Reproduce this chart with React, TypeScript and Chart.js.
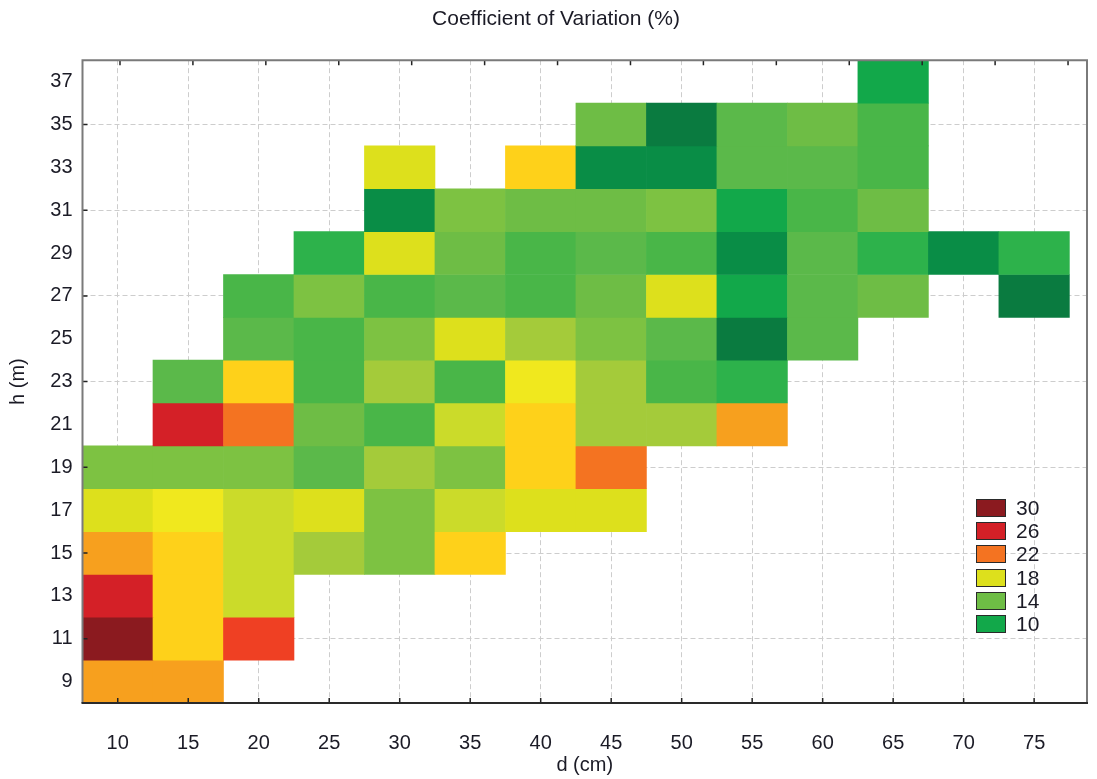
import React, { useEffect, useRef } from 'react';
import { Chart, registerables } from 'chart.js';

Chart.register(...registerables);

// ---------- data ----------
const chartTitle = 'Coefficient of Variation (%)';
const xTitle = 'd (cm)';
const yTitle = 'h (m)';

const dValues = [10, 15, 20, 25, 30, 35, 40, 45, 50, 55, 60, 65, 70, 75];
const hValues = [9, 11, 13, 15, 17, 19, 21, 23, 25, 27, 29, 31, 33, 35, 37];
const hGridValues = [11, 15, 19, 23, 27, 31, 35];
const hStep = 2;

const N = null;
// CV (%) per row of h, columns follow dValues
const cvH9 = [21, 21, N, N, N, N, N, N, N, N, N, N, N, N];
const cvH11 = [30, 20, 24, N, N, N, N, N, N, N, N, N, N, N];
const cvH13 = [26, 20, 17, N, N, N, N, N, N, N, N, N, N, N];
const cvH15 = [21, 20, 17, 16, 15, 20, N, N, N, N, N, N, N, N];
const cvH17 = [18, 19, 17, 18, 15, 17, 18, 18, N, N, N, N, N, N];
const cvH19 = [15, 15, 15, 13, 16, 15, 20, 22, N, N, N, N, N, N];
const cvH21 = [N, 26, 22, 14, 12, 17, 20, 16, 16, 21, N, N, N, N];
const cvH23 = [N, 13, 20, 12, 16, 12, 19, 16, 12, 11, N, N, N, N];
const cvH25 = [N, N, 13, 12, 15, 18, 16, 15, 13, 8, 13, N, N, N];
const cvH27 = [N, N, 12, 15, 12, 13, 12, 14, 18, 10, 13, 14, N, 8];
const cvH29 = [N, N, N, 11, 18, 14, 12, 13, 12, 9, 13, 11, 9, 11];
const cvH31 = [N, N, N, N, 9, 15, 14, 14, 15, 10, 12, 14, N, N];
const cvH33 = [N, N, N, N, 18, N, 20, 9, 9, 13, 13, 12, N, N];
const cvH35 = [N, N, N, N, N, N, N, 14, 8, 13, 14, 12, N, N];
const cvH37 = [N, N, N, N, N, N, N, N, N, N, N, 10, N, N];
const cvRows = [cvH9, cvH11, cvH13, cvH15, cvH17, cvH19, cvH21, cvH23, cvH25, cvH27, cvH29, cvH31, cvH33, cvH35, cvH37];

const legendValues = [30, 26, 22, 18, 14, 10];

// ---------- colour scale ----------
const cvLevels = [8, 9, 10, 11, 12, 13, 14, 15, 16, 17, 18, 19, 20, 21, 22, 24, 26, 30];
const cvColors = ['#0a7b40', '#098d46', '#12a84a', '#2db24b', '#49b648', '#5bb94a', '#6ebd45', '#7dc242',
  '#a4cb3a', '#cbdb2a', '#dde01c', '#f0e81e', '#fed11a', '#f7a01e', '#f47321', '#ef4023', '#d42027', '#8b1a1f'];

function hexToRgb(h: string) {
  const n = parseInt(h.slice(1), 16);
  return [(n >> 16) & 255, (n >> 8) & 255, n & 255];
}
function cvColor(v: number): string {
  if (v <= cvLevels[0]) return cvColors[0];
  for (let i = 0; i < cvLevels.length - 1; i++) {
    if (v <= cvLevels[i + 1]) {
      const t = (v - cvLevels[i]) / (cvLevels[i + 1] - cvLevels[i]);
      const a = hexToRgb(cvColors[i]);
      const b = hexToRgb(cvColors[i + 1]);
      const c = a.map((x, k) => Math.round(x + (b[k] - x) * t));
      return `rgb(${c[0]},${c[1]},${c[2]})`;
    }
  }
  return cvColors[cvColors.length - 1];
}

const FONT = '"Liberation Sans", Arial, sans-serif';
const TEXT = '#1b1b26';
const GRID = '#cdcdcd';

const framePlugin = {
  id: 'frameTicks',
  afterDatasetsDraw(chart: any) {
    const { ctx, chartArea } = chart;
    const { left, right, top, bottom } = chartArea;
    const xs = chart.scales.x;
    const ys = chart.scales.y;
    const x2 = chart.scales.x2;
    ctx.save();
    ctx.strokeStyle = '#222';
    ctx.lineWidth = 1.5;
    ctx.beginPath();
    for (const v of dValues) {
      const px = xs.getPixelForValue(v);
      ctx.moveTo(px, bottom);
      ctx.lineTo(px, bottom - 5);
      const pt = x2.getPixelForValue(v);
      ctx.moveTo(pt, top);
      ctx.lineTo(pt, top + 5);
    }
    for (const v of hGridValues) {
      const py = ys.getPixelForValue(v);
      ctx.moveTo(left, py);
      ctx.lineTo(left + 5, py);
    }
    ctx.stroke();
    ctx.lineWidth = 2;
    ctx.strokeStyle = '#7a7a7a';
    ctx.beginPath();
    ctx.moveTo(left, bottom);
    ctx.lineTo(left, top);
    ctx.lineTo(right, top);
    ctx.lineTo(right, bottom);
    ctx.stroke();
    ctx.strokeStyle = '#2a2a2a';
    ctx.beginPath();
    ctx.moveTo(left - 1, bottom);
    ctx.lineTo(right + 1, bottom);
    ctx.stroke();
    ctx.restore();
  },
};

export default function App() {
  const canvasRef = useRef<HTMLCanvasElement | null>(null);

  useEffect(() => {
    const cells: any[] = [];
    const colors: string[] = [];
    hValues.forEach((h, r) => {
      cvRows[r].forEach((v, c) => {
        if (v === null) return;
        cells.push({ x: dValues[c], y: [h - hStep / 2, h + hStep / 2], cv: v });
        colors.push(cvColor(v));
      });
    });

    const chart = new Chart(canvasRef.current as HTMLCanvasElement, {
      type: 'bar',
      data: {
        datasets: [
          {
            data: cells,
            backgroundColor: colors,
            borderWidth: 0,
            barPercentage: 1,
            categoryPercentage: 1,
            borderSkipped: false,
          } as any,
        ],
      },
      plugins: [framePlugin],
      options: {
        responsive: false,
        animation: false,
        layout: { padding: { left: 25, right: 10, top: 0, bottom: 0 } },
        plugins: {
          legend: { display: false },
          tooltip: { enabled: false },
          title: {
            display: true,
            text: chartTitle,
            color: TEXT,
            font: { family: FONT, size: 21, weight: 'normal' },
            padding: { top: 7, bottom: 28 },
          },
        },
        scales: {
          x: {
            type: 'linear',
            position: 'bottom',
            min: 7.5,
            max: 78.75,
            offset: false,
            afterBuildTicks: (s: any) => {
              s.ticks = dValues.map((v) => ({ value: v }));
            },
            afterFit: (s: any) => {
              s.height = 76;
            },
            ticks: { color: TEXT, font: { family: FONT, size: 20 }, padding: 28, maxRotation: 0, autoSkip: false },
            grid: { offset: false, color: GRID, lineWidth: 1, drawTicks: false },
            border: { display: false, dash: [5, 3] },
            title: { display: true, text: xTitle, color: TEXT, font: { family: FONT, size: 20 }, padding: { top: 0, bottom: 2 } },
          },
          x2: {
            type: 'linear',
            position: 'top',
            min: 7.43,
            max: 76.3,
            offset: false,
            afterBuildTicks: (s: any) => {
              s.ticks = dValues.map((v) => ({ value: v }));
            },
            afterFit: (s: any) => {
              s.height = 0;
            },
            ticks: { display: false },
            grid: { display: false, drawTicks: false },
            border: { display: false },
          },
          y: {
            type: 'linear',
            position: 'left',
            min: 8,
            max: 38,
            beginAtZero: false,
            afterBuildTicks: (s: any) => {
              s.ticks = hValues.map((v) => ({ value: v }));
            },
            afterFit: (s: any) => {
              s.width = 57.5;
            },
            ticks: { color: TEXT, font: { family: FONT, size: 20 }, padding: 10, autoSkip: false },
            grid: { display: false, drawTicks: false },
            border: { display: false },
            title: { display: true, text: yTitle, color: TEXT, font: { family: FONT, size: 20 }, padding: { top: -19, bottom: 0 } },
          },
          y2: {
            type: 'linear',
            position: 'right',
            min: 8,
            max: 38,
            beginAtZero: false,
            afterBuildTicks: (s: any) => {
              s.ticks = hGridValues.map((v) => ({ value: v }));
            },
            afterFit: (s: any) => {
              s.width = 0;
            },
            ticks: { display: false },
            grid: { color: GRID, lineWidth: 1, drawTicks: false },
            border: { display: false, dash: [5, 3] },
          },
        },
      } as any,
    });
    return () => chart.destroy();
  }, []);

  return (
    <div style={{ position: 'absolute', left: 0, top: 0, width: 1097, height: 779, background: '#fff', fontFamily: FONT }}>
      <canvas ref={canvasRef} width={1097} height={779} style={{ display: 'block' }} />
      <div style={{ position: 'absolute', left: 976, top: 496 }}>
        {legendValues.map((v) => (
          <div key={v} style={{ display: 'flex', alignItems: 'center', height: 23.3 }}>
            <div
              style={{
                width: 28,
                height: 16,
                background: cvColor(v),
                border: '1.5px solid #2a2a2a',
                boxSizing: 'content-box',
              }}
            />
            <span style={{ marginLeft: 10, fontSize: 21, color: TEXT, lineHeight: '18px' }}>{v}</span>
          </div>
        ))}
      </div>
    </div>
  );
}
